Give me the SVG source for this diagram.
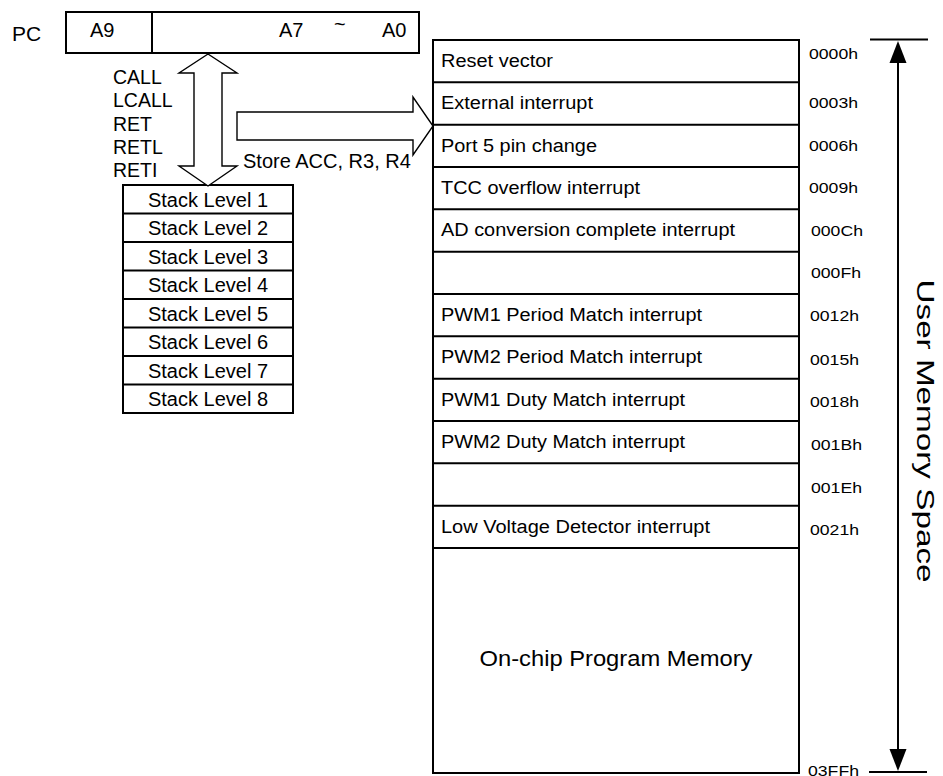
<svg xmlns="http://www.w3.org/2000/svg" width="943" height="776" viewBox="0 0 943 776">
<style>
  text { font-family: "Liberation Sans", Arial, sans-serif; fill: #000; }
  .box { fill: #fff; stroke: #000; stroke-width: 2; }
  .ln { stroke: #000; stroke-width: 2; fill: none; }
  .arr { fill: #fff; stroke: #000; stroke-width: 1.4; stroke-linejoin: miter; }
  .mem { font-size: 18px; }
  .stk { font-size: 20px; text-anchor: middle; }
  .ins { font-size: 19.5px; }
  .adr { font-size: 14px; }
  .reg { font-size: 20px; }
</style>
<rect width="943" height="776" fill="#fff"/>

<g id="pc-register">
  <text class="reg" x="12" y="41" style="font-size:21px">PC</text>
  <rect class="box" x="66" y="12" width="353" height="41"/>
  <line class="ln" x1="152" y1="12" x2="152" y2="53"/>
  <text class="reg" x="90" y="37">A9</text>
  <text class="reg" x="279" y="37">A7</text>
  <text class="reg" x="334" y="31">~</text>
  <text class="reg" x="382" y="37">A0</text>
</g>

<g id="instructions">
  <text class="ins" x="113" y="84">CALL</text>
  <text class="ins" x="113" y="107">LCALL</text>
  <text class="ins" x="113" y="130.5">RET</text>
  <text class="ins" x="113" y="154">RETL</text>
  <text class="ins" x="113" y="177">RETI</text>
</g>

<g id="stack">
  <rect class="box" x="123" y="185" width="170" height="228"/>
  <line class="ln" x1="123" y1="213.5" x2="293" y2="213.5"/>
  <line class="ln" x1="123" y1="242" x2="293" y2="242"/>
  <line class="ln" x1="123" y1="270.5" x2="293" y2="270.5"/>
  <line class="ln" x1="123" y1="299" x2="293" y2="299"/>
  <line class="ln" x1="123" y1="327.5" x2="293" y2="327.5"/>
  <line class="ln" x1="123" y1="356" x2="293" y2="356"/>
  <line class="ln" x1="123" y1="384.5" x2="293" y2="384.5"/>
  <text class="stk" x="208" y="206.5">Stack Level 1</text>
  <text class="stk" x="208" y="235">Stack Level 2</text>
  <text class="stk" x="208" y="263.5">Stack Level 3</text>
  <text class="stk" x="208" y="292">Stack Level 4</text>
  <text class="stk" x="208" y="320.5">Stack Level 5</text>
  <text class="stk" x="208" y="349">Stack Level 6</text>
  <text class="stk" x="208" y="377.5">Stack Level 7</text>
  <text class="stk" x="208" y="406">Stack Level 8</text>
</g>

<g id="program-memory">
  <rect class="box" x="433" y="40" width="366" height="733"/>
  <line class="ln" x1="433" y1="82.3" x2="799" y2="82.3"/>
  <line class="ln" x1="433" y1="124.7" x2="799" y2="124.7"/>
  <line class="ln" x1="433" y1="167" x2="799" y2="167"/>
  <line class="ln" x1="433" y1="209.3" x2="799" y2="209.3"/>
  <line class="ln" x1="433" y1="251.7" x2="799" y2="251.7"/>
  <line class="ln" x1="433" y1="294" x2="799" y2="294"/>
  <line class="ln" x1="433" y1="336.3" x2="799" y2="336.3"/>
  <line class="ln" x1="433" y1="378.7" x2="799" y2="378.7"/>
  <line class="ln" x1="433" y1="421" x2="799" y2="421"/>
  <line class="ln" x1="433" y1="463.3" x2="799" y2="463.3"/>
  <line class="ln" x1="433" y1="505.7" x2="799" y2="505.7"/>
  <line class="ln" x1="433" y1="548" x2="799" y2="548"/>
  <text class="mem" x="441" y="67" textLength="112" lengthAdjust="spacingAndGlyphs">Reset vector</text>
  <text class="mem" x="441" y="109.3" textLength="152" lengthAdjust="spacingAndGlyphs">External interrupt</text>
  <text class="mem" x="441" y="151.7" textLength="156" lengthAdjust="spacingAndGlyphs">Port 5 pin change</text>
  <text class="mem" x="441" y="194" textLength="199" lengthAdjust="spacingAndGlyphs">TCC overflow interrupt</text>
  <text class="mem" x="441" y="236.3" textLength="294" lengthAdjust="spacingAndGlyphs">AD conversion complete interrupt</text>
  <text class="mem" x="441" y="321" textLength="261" lengthAdjust="spacingAndGlyphs">PWM1 Period Match interrupt</text>
  <text class="mem" x="441" y="363.3" textLength="261" lengthAdjust="spacingAndGlyphs">PWM2 Period Match interrupt</text>
  <text class="mem" x="441" y="405.7" textLength="244" lengthAdjust="spacingAndGlyphs">PWM1 Duty Match interrupt</text>
  <text class="mem" x="441" y="448" textLength="244" lengthAdjust="spacingAndGlyphs">PWM2 Duty Match interrupt</text>
  <text class="mem" x="441" y="532.7" textLength="269" lengthAdjust="spacingAndGlyphs">Low Voltage Detector interrupt</text>
  <text x="616" y="666" text-anchor="middle" style="font-size:22px" textLength="273" lengthAdjust="spacingAndGlyphs">On-chip Program Memory</text>
</g>

<g id="addresses">
  <text class="adr" x="809" y="59" textLength="49" lengthAdjust="spacingAndGlyphs">0000h</text>
  <text class="adr" x="809" y="108" textLength="49" lengthAdjust="spacingAndGlyphs">0003h</text>
  <text class="adr" x="809" y="150.5" textLength="49" lengthAdjust="spacingAndGlyphs">0006h</text>
  <text class="adr" x="809" y="193" textLength="49" lengthAdjust="spacingAndGlyphs">0009h</text>
  <text class="adr" x="811" y="236" textLength="52" lengthAdjust="spacingAndGlyphs">000Ch</text>
  <text class="adr" x="811" y="278" textLength="50" lengthAdjust="spacingAndGlyphs">000Fh</text>
  <text class="adr" x="810" y="321" textLength="49" lengthAdjust="spacingAndGlyphs">0012h</text>
  <text class="adr" x="810" y="364.5" textLength="49" lengthAdjust="spacingAndGlyphs">0015h</text>
  <text class="adr" x="810" y="407" textLength="49" lengthAdjust="spacingAndGlyphs">0018h</text>
  <text class="adr" x="811" y="450" textLength="51" lengthAdjust="spacingAndGlyphs">001Bh</text>
  <text class="adr" x="811" y="493" textLength="51" lengthAdjust="spacingAndGlyphs">001Eh</text>
  <text class="adr" x="810" y="535" textLength="49" lengthAdjust="spacingAndGlyphs">0021h</text>
  <text class="adr" x="808" y="776" textLength="51" lengthAdjust="spacingAndGlyphs">03FFh</text>
</g>

<g id="user-memory-space">
  <text transform="translate(917 431) rotate(90)" text-anchor="middle" style="font-size:23px" textLength="303" lengthAdjust="spacingAndGlyphs">User Memory Space</text>
</g>

<g id="connectors">
  <path class="arr" d="M208,54 L237,73 L222,73 L222,166 L237,166 L208,186 L179,166 L194,166 L194,73 L179,73 Z"/>
  <path class="arr" d="M237,112 L413,112 L413,97 L433,126 L413,155 L413,140 L237,140 Z"/>
  <line class="ln" x1="870" y1="39.5" x2="928" y2="39.5"/>
  <line class="ln" x1="869" y1="772" x2="927" y2="772"/>
  <line class="ln" x1="898" y1="60" x2="898" y2="752"/>
  <polygon points="898,41 889.5,63 906.5,63" fill="#000"/>
  <polygon points="898,771 889.5,749 906.5,749" fill="#000"/>
  <text x="243" y="168" style="font-size:20px">Store ACC, R3, R4</text>
</g>
</svg>
